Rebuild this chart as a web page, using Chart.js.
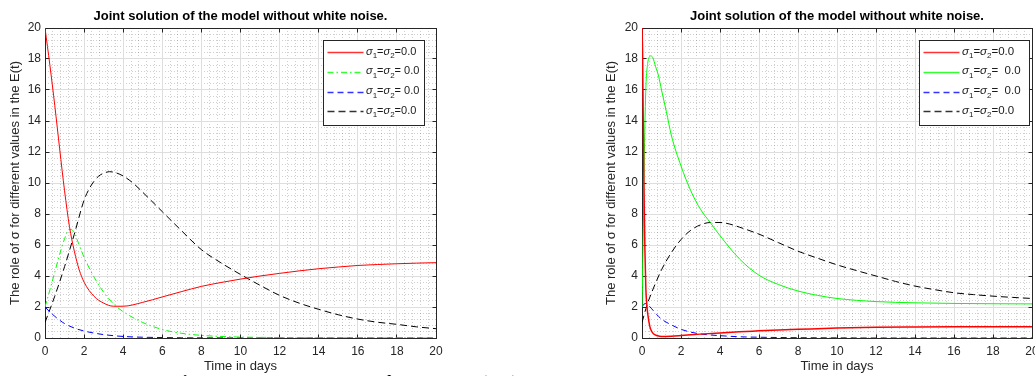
<!DOCTYPE html>
<html><head><meta charset="utf-8">
<script src="https://cdn.jsdelivr.net/npm/chart.js@4.4.1/dist/chart.umd.min.js"></script>
<style>
html,body{margin:0;padding:0;background:#fff;overflow:hidden;width:1035px;height:376px;position:relative}
#c1{position:absolute;left:0;top:0;width:481px;height:376px}
#c2{position:absolute;left:596px;top:0;width:482px;height:376px}
#cap{position:absolute;left:170px;top:373px;font-family:"Liberation Serif",serif;font-size:20px;line-height:20px;white-space:nowrap;color:#000}
</style></head><body>
<div id="cap"><b>Figure 3:</b> Joint solutions of the model (3.1) without white noise.</div>
<canvas id="c1" width="481" height="376"></canvas>
<canvas id="c2" width="482" height="376"></canvas>
<script>
// ---------- shared text ----------
const chartTitle = 'Joint solution of the model without white noise.';
const xTitle = 'Time in days';
const yTitle = 'The role of \u03C3 for different values in the E(t)';
const xTicksMin = 0, xTicksMax = 20, xStep = 2;
const yTicksMin = 0, yTicksMax = 20, yStep = 2;
const seriesLabels = ['\u03C31=\u03C32=0.0', '\u03C31=\u03C32= 0.0', '\u03C31=\u03C32= 0.0', '\u03C31=\u03C32=0.0'];
const legendValuesL = ['=0.0', '= 0.0', '= 0.0', '=0.0'];
const legendValuesR = ['=0.0', '=  0.0', '=  0.0', '=0.0'];

// ---------- left chart data ----------
const tRedL   = [0,0.25,0.5,0.75,1,1.25,1.5,1.75,2,2.5,3,3.5,4,5,6,7,8,9,10,11,12,13,14,15,16,17,18,19,20];
const redL    = [20,17.6,15.0,12.2,9.5,7.2,5.6,4.4,3.6,2.7,2.25,2.05,2.05,2.3,2.65,3.0,3.33,3.58,3.8,4.0,4.17,4.33,4.47,4.58,4.68,4.74,4.79,4.83,4.86];
const tGreenL = [0,0.25,0.5,0.75,1,1.2,1.35,1.5,1.75,2,2.5,3,3.5,4,5,6,7,8,9,10,12,14,16,18,20];
const greenL  = [2,3.1,4.25,5.4,6.4,6.95,7.0,6.75,6.0,5.2,3.95,2.95,2.2,1.7,1.0,0.55,0.3,0.17,0.1,0.06,0.03,0.015,0.01,0.005,0];
const tBlueL  = [0,0.25,0.5,0.75,1,1.5,2,2.5,3,3.5,4,5,6,7,8,10,12,14,16,18,20];
const blueL   = [2,1.68,1.4,1.15,0.93,0.64,0.45,0.32,0.22,0.15,0.1,0.05,0.03,0.015,0.01,0.004,0,0,0,0,0];
const tBlackL = [0,0.5,1,1.5,2,2.25,2.5,2.75,3,3.3,3.6,4,4.5,5,6,7,8,9,10,11,12,13,14,15,16,17,18,19,20];
const blackL  = [1,2.7,4.6,6.7,8.9,9.6,10.1,10.45,10.63,10.73,10.67,10.45,10.0,9.4,8.15,6.9,5.7,4.85,4.1,3.4,2.75,2.25,1.85,1.5,1.22,1.02,0.88,0.72,0.6];

// ---------- right chart data ----------
const tRedR   = [0,0.03,0.06,0.1,0.15,0.2,0.25,0.3,0.4,0.5,0.6,0.8,1,1.5,2,3,4,5,6,7,8,10,12,14,16,18,20];
const redR    = [20,18.4,14.5,9.8,5.6,3.1,2.1,1.5,0.75,0.42,0.26,0.14,0.1,0.12,0.16,0.25,0.33,0.4,0.46,0.52,0.56,0.64,0.69,0.71,0.72,0.72,0.72];
const tGreenR = [0,0.05,0.12,0.2,0.29,0.36,0.45,0.55,0.7,0.85,1,1.25,1.5,2,2.5,3,3.5,4,5,6,7,8,9,10,12,14,16,18,20];
const greenR  = [2,5.5,11.9,16.2,17.7,18.1,18.2,18.1,17.5,16.9,16.0,14.6,13.1,11.1,9.5,8.3,7.45,6.6,5.1,4.05,3.45,3.03,2.75,2.55,2.35,2.27,2.23,2.21,2.2];
const tBlueR  = [0,0.1,0.2,0.3,0.5,0.75,1,1.5,2,2.5,3,4,5,6,8,10,12,14,16,18,20];
const blueR   = [2,2.18,2.22,2.15,1.88,1.52,1.22,0.85,0.56,0.38,0.26,0.15,0.08,0.05,0.02,0.01,0,0,0,0,0];
const tBlackR = [0,0.25,0.5,0.75,1,1.5,2,2.5,3,3.5,4,4.5,5,6,7,8,9,10,11,12,13,14,15,16,17,18,19,20];
const blackR  = [1,2.1,2.95,3.7,4.4,5.5,6.35,6.95,7.3,7.45,7.45,7.35,7.15,6.7,6.15,5.6,5.15,4.72,4.35,4.0,3.65,3.35,3.12,2.92,2.8,2.7,2.62,2.55];

const FONT = "'Liberation Sans', Arial, Helvetica, sans-serif";
const AXIS_COLOR = '#262626';

function pts(t, v) { return t.map((x, i) => ({ x: x, y: v[i] })); }
function ds(label, t, v, color, dash, width) {
  return { label, data: pts(t, v), borderColor: color, backgroundColor: color, borderWidth: width || 1,
           borderDash: dash, pointRadius: 0, fill: false, cubicInterpolationMode: 'monotone' };
}
function al(chart, p) { return Math.round(p - 0.5) + 0.5; }

const matlabPlugin = {
  id: 'matlabAxes',
  beforeDraw(chart) {
    const ctx = chart.ctx, a = chart.chartArea, xs = chart.scales.x, ys = chart.scales.y;
    ctx.save();
    ctx.strokeStyle = 'rgba(38,38,38,0.22)';
    ctx.lineWidth = 1;
    ctx.setLineDash([1, 2]);
    for (let k = 1; k < 50; k++) {
      if (k % 5 === 0) continue;
      const v = k * 0.4;
      const px = al(chart, xs.getPixelForValue(v));
      ctx.beginPath(); ctx.moveTo(px, a.top); ctx.lineTo(px, a.bottom); ctx.stroke();
      const py = al(chart, ys.getPixelForValue(v));
      ctx.beginPath(); ctx.moveTo(a.left, py); ctx.lineTo(a.right, py); ctx.stroke();
    }
    ctx.restore();
  },
  beforeDatasetsDraw(chart) {
    const ctx = chart.ctx, a = chart.chartArea, xs = chart.scales.x, ys = chart.scales.y;
    ctx.save();
    ctx.strokeStyle = AXIS_COLOR;
    ctx.lineWidth = 1;
    ctx.setLineDash([]);
    const L = al(chart, a.left), R = al(chart, a.right), T = al(chart, a.top), B = al(chart, a.bottom);
    ctx.strokeRect(L, T, R - L, B - T);
    const tl = 4;
    ctx.beginPath();
    xs.ticks.forEach(t => {
      const px = al(chart, xs.getPixelForValue(t.value));
      ctx.moveTo(px, B); ctx.lineTo(px, B - tl);
      ctx.moveTo(px, T); ctx.lineTo(px, T + tl);
    });
    ys.ticks.forEach(t => {
      const py = al(chart, ys.getPixelForValue(t.value));
      ctx.moveTo(L, py); ctx.lineTo(L + tl, py);
      ctx.moveTo(R, py); ctx.lineTo(R - tl, py);
    });
    ctx.stroke();
    ctx.restore();
  },
  afterDatasetsDraw(chart) {
    const o = chart.options.plugins.matlabLegend;
    if (!o) return;
    const ctx = chart.ctx, a = chart.chartArea;
    const bx = Math.round(a.right - o.offsetLeft) + 0.5;
    const by = Math.round(a.top + o.top) + 0.5;
    ctx.save();
    ctx.fillStyle = '#fff';
    ctx.fillRect(bx, by, o.width, o.height);
    ctx.strokeStyle = AXIS_COLOR;
    ctx.lineWidth = 1;
    ctx.setLineDash([]);
    ctx.strokeRect(bx, by, o.width, o.height);
    chart.data.datasets.forEach((d, i) => {
      const y = by + o.firstRow + i * o.rowGap;
      ctx.save();
      ctx.globalAlpha = 0.8;
      ctx.strokeStyle = d.borderColor;
      ctx.lineWidth = 1.5;
      ctx.setLineDash(d.borderDash || []);
      ctx.beginPath(); ctx.moveTo(bx + 4, Math.round(y) + 0.5); ctx.lineTo(bx + 40, Math.round(y) + 0.5); ctx.stroke();
      ctx.restore();
      let x = bx + 42.5;
      ctx.fillStyle = '#1a1a1a';
      ctx.textBaseline = 'alphabetic';
      ctx.textAlign = 'left';
      const fs = o.fontSize;
      const main = fs + 'px ' + FONT, ital = 'italic ' + fs + 'px ' + FONT, sub = Math.round(fs * 0.72) + 'px ' + FONT;
      const put = (txt, f, dy) => { ctx.font = f; ctx.fillText(txt, x, y + dy); x += ctx.measureText(txt).width; };
      put('\u03C3', ital, 2.5); put('1', sub, 6); put('=', main, 2.5);
      put('\u03C3', ital, 2.5); put('2', sub, 6); put(o.values[i], main, 2.5);
    });
    ctx.restore();
  }
};

function makeChart(id, datasets, yWidth, rightPad, legendOpts) {
  return new Chart(document.getElementById(id), {
    type: 'line',
    data: { datasets },
    plugins: [matlabPlugin],
    options: {
      responsive: false, animation: false, devicePixelRatio: 1,
      layout: { padding: { left: 0, right: rightPad, top: 0, bottom: 0 } },
      plugins: {
        legend: { display: false }, tooltip: { enabled: false },
        title: { display: true, fullSize: false, text: chartTitle, color: '#000',
                 font: { family: FONT, size: 13, weight: 'bold', lineHeight: 1.2 },
                 padding: { top: 9, bottom: 3.4 } },
        matlabLegend: legendOpts
      },
      scales: {
        x: {
          type: 'linear', min: xTicksMin, max: xTicksMax,
          ticks: { stepSize: xStep, padding: 6, color: AXIS_COLOR, maxRotation: 0, autoSkip: false,
                   font: { family: FONT, size: 12 } },
          grid: { color: '#dedede', drawTicks: false, lineWidth: 1 },
          border: { display: false },
          title: { display: true, text: xTitle, color: AXIS_COLOR, font: { family: FONT, size: 13 },
                   padding: { top: 0, bottom: 2 } },
          afterFit: s => { s.height = 38; }
        },
        y: {
          type: 'linear', min: yTicksMin, max: yTicksMax,
          ticks: { stepSize: yStep, padding: 4, color: AXIS_COLOR, font: { family: FONT, size: 12 } },
          grid: { color: '#dedede', drawTicks: false, lineWidth: 1 },
          border: { display: false },
          title: { display: true, text: yTitle, color: AXIS_COLOR, font: { family: FONT, size: 13 },
                   padding: { top: 7.4, bottom: 0 } },
          afterFit: s => { s.width = yWidth; }
        }
      }
    }
  });
}

makeChart('c1', [
  ds(seriesLabels[0], tRedL, redL, '#ff0000', [], 1),
  ds(seriesLabels[1], tGreenL, greenL, '#00ff00', [6, 3, 1.5, 3], 1),
  ds(seriesLabels[2], tBlueL, blueL, '#0000ff', [6, 4], 1),
  ds(seriesLabels[3], tBlackL, blackL, '#000000', [7, 4], 1)
], 45, 45, { offsetLeft: 113.5, width: 101, top: 12, height: 85, firstRow: 11.7, rowGap: 19.7, fontSize: 11, values: legendValuesL });

makeChart('c2', [
  ds(seriesLabels[0], tRedR, redR, '#ff0000', [], 1.5),
  ds(seriesLabels[1], tGreenR, greenR, '#00ff00', [], 1),
  ds(seriesLabels[2], tBlueR, blueR, '#0000ff', [6, 4], 1),
  ds(seriesLabels[3], tBlackR, blackR, '#000000', [7, 4], 1)
], 46, 46, { offsetLeft: 113.5, width: 110, top: 12, height: 85, firstRow: 11.7, rowGap: 19.7, fontSize: 11.5, values: legendValuesR });
</script>
</body></html>
